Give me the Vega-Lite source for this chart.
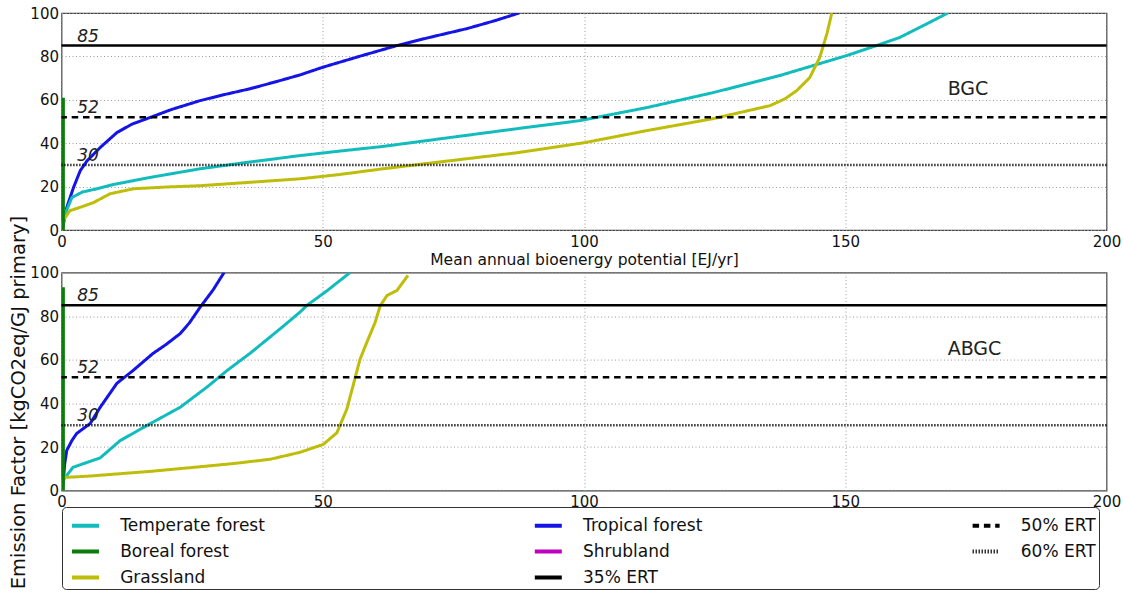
{
  "$schema": "https://vega.github.io/schema/vega-lite/v6.json",
  "background": "white",
  "padding": {"left": 7.5, "top": 5, "right": 5, "bottom": 5},
  "datasets": {
    "curves": [
      {"panel": "BGC", "series": "Tropical forest", "x": 0, "y": 0},
      {"panel": "BGC", "series": "Tropical forest", "x": 0.3, "y": 2},
      {"panel": "BGC", "series": "Tropical forest", "x": 1, "y": 10.3},
      {"panel": "BGC", "series": "Tropical forest", "x": 2.3, "y": 19.6},
      {"panel": "BGC", "series": "Tropical forest", "x": 3.6, "y": 27.4},
      {"panel": "BGC", "series": "Tropical forest", "x": 4.9, "y": 31.9},
      {"panel": "BGC", "series": "Tropical forest", "x": 7.4, "y": 38},
      {"panel": "BGC", "series": "Tropical forest", "x": 10.6, "y": 44.9},
      {"panel": "BGC", "series": "Tropical forest", "x": 13.5, "y": 48.8},
      {"panel": "BGC", "series": "Tropical forest", "x": 16.9, "y": 51.8},
      {"panel": "BGC", "series": "Tropical forest", "x": 21, "y": 55.5},
      {"panel": "BGC", "series": "Tropical forest", "x": 26.5, "y": 59.6},
      {"panel": "BGC", "series": "Tropical forest", "x": 31, "y": 62.3},
      {"panel": "BGC", "series": "Tropical forest", "x": 36.1, "y": 65.1},
      {"panel": "BGC", "series": "Tropical forest", "x": 41, "y": 68.3},
      {"panel": "BGC", "series": "Tropical forest", "x": 45.7, "y": 71.5},
      {"panel": "BGC", "series": "Tropical forest", "x": 50, "y": 75},
      {"panel": "BGC", "series": "Tropical forest", "x": 57, "y": 80},
      {"panel": "BGC", "series": "Tropical forest", "x": 64.2, "y": 85},
      {"panel": "BGC", "series": "Tropical forest", "x": 70, "y": 88.5},
      {"panel": "BGC", "series": "Tropical forest", "x": 77.6, "y": 92.8},
      {"panel": "BGC", "series": "Tropical forest", "x": 83, "y": 96.5},
      {"panel": "BGC", "series": "Tropical forest", "x": 87.2, "y": 99.7},
      {"panel": "BGC", "series": "Tropical forest", "x": 87.6, "y": 100},
      {"panel": "BGC", "series": "Temperate forest", "x": 0, "y": 0},
      {"panel": "BGC", "series": "Temperate forest", "x": 0.3, "y": 3},
      {"panel": "BGC", "series": "Temperate forest", "x": 0.7, "y": 7.5},
      {"panel": "BGC", "series": "Temperate forest", "x": 2, "y": 15},
      {"panel": "BGC", "series": "Temperate forest", "x": 4, "y": 17.5},
      {"panel": "BGC", "series": "Temperate forest", "x": 6.8, "y": 19},
      {"panel": "BGC", "series": "Temperate forest", "x": 10, "y": 21},
      {"panel": "BGC", "series": "Temperate forest", "x": 16.9, "y": 24.2},
      {"panel": "BGC", "series": "Temperate forest", "x": 26.5, "y": 28.2},
      {"panel": "BGC", "series": "Temperate forest", "x": 35, "y": 31},
      {"panel": "BGC", "series": "Temperate forest", "x": 45.7, "y": 34.3},
      {"panel": "BGC", "series": "Temperate forest", "x": 53, "y": 36.3},
      {"panel": "BGC", "series": "Temperate forest", "x": 61.5, "y": 38.5},
      {"panel": "BGC", "series": "Temperate forest", "x": 74.3, "y": 42.6},
      {"panel": "BGC", "series": "Temperate forest", "x": 87.2, "y": 46.7},
      {"panel": "BGC", "series": "Temperate forest", "x": 99.2, "y": 50.4},
      {"panel": "BGC", "series": "Temperate forest", "x": 112, "y": 56.4},
      {"panel": "BGC", "series": "Temperate forest", "x": 124.7, "y": 63.3},
      {"panel": "BGC", "series": "Temperate forest", "x": 137.5, "y": 71.2},
      {"panel": "BGC", "series": "Temperate forest", "x": 150.3, "y": 80.4},
      {"panel": "BGC", "series": "Temperate forest", "x": 156, "y": 85},
      {"panel": "BGC", "series": "Temperate forest", "x": 160.4, "y": 88.7},
      {"panel": "BGC", "series": "Temperate forest", "x": 165.6, "y": 95},
      {"panel": "BGC", "series": "Temperate forest", "x": 169.4, "y": 99.7},
      {"panel": "BGC", "series": "Temperate forest", "x": 169.6, "y": 100},
      {"panel": "BGC", "series": "Grassland", "x": 0, "y": 0},
      {"panel": "BGC", "series": "Grassland", "x": 0.3, "y": 4},
      {"panel": "BGC", "series": "Grassland", "x": 0.7, "y": 5.7},
      {"panel": "BGC", "series": "Grassland", "x": 1.6, "y": 8.9},
      {"panel": "BGC", "series": "Grassland", "x": 4, "y": 10.8},
      {"panel": "BGC", "series": "Grassland", "x": 6.1, "y": 12.6},
      {"panel": "BGC", "series": "Grassland", "x": 9.3, "y": 16.7},
      {"panel": "BGC", "series": "Grassland", "x": 13.8, "y": 19},
      {"panel": "BGC", "series": "Grassland", "x": 20, "y": 19.8},
      {"panel": "BGC", "series": "Grassland", "x": 26.5, "y": 20.4},
      {"panel": "BGC", "series": "Grassland", "x": 35, "y": 21.8},
      {"panel": "BGC", "series": "Grassland", "x": 45.7, "y": 23.6},
      {"panel": "BGC", "series": "Grassland", "x": 53, "y": 25.5},
      {"panel": "BGC", "series": "Grassland", "x": 61.5, "y": 28.2},
      {"panel": "BGC", "series": "Grassland", "x": 74.3, "y": 31.9},
      {"panel": "BGC", "series": "Grassland", "x": 87.2, "y": 35.6},
      {"panel": "BGC", "series": "Grassland", "x": 100, "y": 40.2},
      {"panel": "BGC", "series": "Grassland", "x": 112, "y": 45.8},
      {"panel": "BGC", "series": "Grassland", "x": 124.7, "y": 51.3},
      {"panel": "BGC", "series": "Grassland", "x": 135.6, "y": 57.3},
      {"panel": "BGC", "series": "Grassland", "x": 138.5, "y": 60.5},
      {"panel": "BGC", "series": "Grassland", "x": 140.7, "y": 64.2},
      {"panel": "BGC", "series": "Grassland", "x": 143.2, "y": 70.2},
      {"panel": "BGC", "series": "Grassland", "x": 145.1, "y": 79.4},
      {"panel": "BGC", "series": "Grassland", "x": 146.5, "y": 90.5},
      {"panel": "BGC", "series": "Grassland", "x": 147.4, "y": 99.7},
      {"panel": "BGC", "series": "Grassland", "x": 147.5, "y": 100},
      {"panel": "BGC", "series": "Boreal forest", "x": 0.36, "y": 0},
      {"panel": "BGC", "series": "Boreal forest", "x": 0.36, "y": 61},
      {"panel": "ABGC", "series": "Tropical forest", "x": 0, "y": 0},
      {"panel": "ABGC", "series": "Tropical forest", "x": 0.3, "y": 3.3},
      {"panel": "ABGC", "series": "Tropical forest", "x": 0.6, "y": 12},
      {"panel": "ABGC", "series": "Tropical forest", "x": 1, "y": 18.4},
      {"panel": "ABGC", "series": "Tropical forest", "x": 2, "y": 23},
      {"panel": "ABGC", "series": "Tropical forest", "x": 2.9, "y": 26.2},
      {"panel": "ABGC", "series": "Tropical forest", "x": 5.5, "y": 30.8},
      {"panel": "ABGC", "series": "Tropical forest", "x": 7.4, "y": 38.2},
      {"panel": "ABGC", "series": "Tropical forest", "x": 10.6, "y": 49.2},
      {"panel": "ABGC", "series": "Tropical forest", "x": 13.7, "y": 55.1},
      {"panel": "ABGC", "series": "Tropical forest", "x": 17.5, "y": 62.9},
      {"panel": "ABGC", "series": "Tropical forest", "x": 20, "y": 67},
      {"panel": "ABGC", "series": "Tropical forest", "x": 22.7, "y": 72},
      {"panel": "ABGC", "series": "Tropical forest", "x": 24.5, "y": 77},
      {"panel": "ABGC", "series": "Tropical forest", "x": 26.5, "y": 84},
      {"panel": "ABGC", "series": "Tropical forest", "x": 29, "y": 92},
      {"panel": "ABGC", "series": "Tropical forest", "x": 31, "y": 99.6},
      {"panel": "ABGC", "series": "Tropical forest", "x": 31.1, "y": 100},
      {"panel": "ABGC", "series": "Temperate forest", "x": 0, "y": 0},
      {"panel": "ABGC", "series": "Temperate forest", "x": 0.3, "y": 4.7},
      {"panel": "ABGC", "series": "Temperate forest", "x": 2.2, "y": 10.7},
      {"panel": "ABGC", "series": "Temperate forest", "x": 7.4, "y": 15},
      {"panel": "ABGC", "series": "Temperate forest", "x": 11.2, "y": 22.9},
      {"panel": "ABGC", "series": "Temperate forest", "x": 16.9, "y": 30.6},
      {"panel": "ABGC", "series": "Temperate forest", "x": 22.7, "y": 38.2},
      {"panel": "ABGC", "series": "Temperate forest", "x": 27.8, "y": 47.4},
      {"panel": "ABGC", "series": "Temperate forest", "x": 31.7, "y": 55.1},
      {"panel": "ABGC", "series": "Temperate forest", "x": 36.1, "y": 63},
      {"panel": "ABGC", "series": "Temperate forest", "x": 42.4, "y": 75.3},
      {"panel": "ABGC", "series": "Temperate forest", "x": 45.7, "y": 82},
      {"panel": "ABGC", "series": "Temperate forest", "x": 47, "y": 85},
      {"panel": "ABGC", "series": "Temperate forest", "x": 51, "y": 92},
      {"panel": "ABGC", "series": "Temperate forest", "x": 55.2, "y": 100},
      {"panel": "ABGC", "series": "Grassland", "x": 0, "y": 0},
      {"panel": "ABGC", "series": "Grassland", "x": 0.3, "y": 6},
      {"panel": "ABGC", "series": "Grassland", "x": 5, "y": 6.6},
      {"panel": "ABGC", "series": "Grassland", "x": 16.9, "y": 8.8},
      {"panel": "ABGC", "series": "Grassland", "x": 25, "y": 10.6},
      {"panel": "ABGC", "series": "Grassland", "x": 32.9, "y": 12.4},
      {"panel": "ABGC", "series": "Grassland", "x": 40, "y": 14.4},
      {"panel": "ABGC", "series": "Grassland", "x": 45.7, "y": 17.6},
      {"panel": "ABGC", "series": "Grassland", "x": 50.1, "y": 21.2},
      {"panel": "ABGC", "series": "Grassland", "x": 52.7, "y": 26.5},
      {"panel": "ABGC", "series": "Grassland", "x": 54.6, "y": 37.3},
      {"panel": "ABGC", "series": "Grassland", "x": 55.8, "y": 48.1},
      {"panel": "ABGC", "series": "Grassland", "x": 57.1, "y": 60},
      {"panel": "ABGC", "series": "Grassland", "x": 58.4, "y": 67.8},
      {"panel": "ABGC", "series": "Grassland", "x": 60, "y": 77},
      {"panel": "ABGC", "series": "Grassland", "x": 61, "y": 84.8},
      {"panel": "ABGC", "series": "Grassland", "x": 62.3, "y": 89.5},
      {"panel": "ABGC", "series": "Grassland", "x": 64.2, "y": 91.8},
      {"panel": "ABGC", "series": "Grassland", "x": 66.3, "y": 98.7},
      {"panel": "ABGC", "series": "Boreal forest", "x": 0.36, "y": 0},
      {"panel": "ABGC", "series": "Boreal forest", "x": 0.36, "y": 93.3}
    ],
    "thresholds": [
      {"series": "35% ERT", "v": 85},
      {"series": "50% ERT", "v": 52},
      {"series": "60% ERT", "v": 30}
    ],
    "panels": [
      {"panel": "BGC"},
      {"panel": "ABGC"}
    ]
  },
  "vconcat": [
    {
      "width": 1045,
      "height": 217,
      "layer": [
        {
          "data": {"name": "curves"},
          "transform": [{"filter": "datum.panel == 'BGC'"}],
          "mark": {"type": "line", "strokeWidth": 3, "clip": true},
          "encoding": {
            "x": {"field": "x", "type": "quantitative", "scale": {"domain": [0, 200], "nice": false},
                  "axis": {"values": [0, 50, 100, 150, 200], "title": "Mean annual bioenergy potential [EJ/yr]"}},
            "y": {"field": "y", "type": "quantitative", "scale": {"domain": [0, 100], "nice": false},
                  "axis": {"values": [0, 20, 40, 60, 80, 100], "title": null}},
            "order": {"field": "y", "type": "quantitative"},
            "color": {"field": "series", "type": "nominal", "legend": {"title": null},
                      "scale": {"domain": ["Temperate forest", "Boreal forest", "Grassland", "Tropical forest", "Shrubland", "35% ERT", "50% ERT", "60% ERT"],
                                "range": ["#12bcbc", "#0a7d0a", "#bdbd0a", "#1414e6", "#bf00bf", "#000000", "#000000", "#000000"]}},
            "strokeDash": {"field": "series", "type": "nominal", "legend": {"title": null},
                           "scale": {"domain": ["Temperate forest", "Boreal forest", "Grassland", "Tropical forest", "Shrubland", "35% ERT", "50% ERT", "60% ERT"],
                                     "range": [[1, 0], [1, 0], [1, 0], [1, 0], [1, 0], [1, 0], [6.5, 4.8], [1.2, 1.8]]}}
          }
        },
        {
          "data": {"name": "thresholds"},
          "mark": {"type": "rule", "strokeWidth": 2.5},
          "encoding": {
            "y": {"field": "v", "type": "quantitative"},
            "color": {"field": "series", "type": "nominal", "legend": {"title": null}},
            "strokeDash": {"field": "series", "type": "nominal", "legend": {"title": null}}
          }
        },
        {
          "data": {"name": "thresholds"},
          "mark": {"type": "text", "fontStyle": "italic", "fontSize": 17, "font": "DejaVu Sans", "align": "left", "baseline": "alphabetic", "dy": -4, "color": "#222"},
          "encoding": {
            "x": {"datum": 3, "type": "quantitative"},
            "y": {"field": "v", "type": "quantitative"},
            "text": {"field": "v", "type": "quantitative"}
          }
        },
        {
          "data": {"name": "panels"},
          "transform": [{"filter": "datum.panel == 'BGC'"}],
          "mark": {"type": "text", "fontSize": 19, "font": "DejaVu Sans", "align": "left", "baseline": "middle", "color": "#222"},
          "encoding": {
            "x": {"datum": 169.6, "type": "quantitative"},
            "y": {"datum": 65, "type": "quantitative"},
            "text": {"field": "panel", "type": "nominal"}
          }
        }
      ]
    },
    {
      "width": 1045,
      "height": 218,
      "layer": [
        {
          "data": {"name": "curves"},
          "transform": [{"filter": "datum.panel == 'ABGC'"}],
          "mark": {"type": "line", "strokeWidth": 3, "clip": true},
          "encoding": {
            "x": {"field": "x", "type": "quantitative", "scale": {"domain": [0, 200], "nice": false},
                  "axis": {"values": [0, 50, 100, 150, 200], "title": null}},
            "y": {"field": "y", "type": "quantitative", "scale": {"domain": [0, 100], "nice": false},
                  "axis": {"values": [0, 20, 40, 60, 80, 100], "title": "Emission Factor [kgCO2eq/GJ primary]",
                           "titleX": -43, "titleY": 129.5, "titleAngle": 270, "titleAlign": "center", "titleBaseline": "middle", "titleFontSize": 19.5}},
            "order": {"field": "y", "type": "quantitative"},
            "color": {"field": "series", "type": "nominal", "legend": {"title": null}},
            "strokeDash": {"field": "series", "type": "nominal", "legend": {"title": null}}
          }
        },
        {
          "data": {"name": "thresholds"},
          "mark": {"type": "rule", "strokeWidth": 2.5},
          "encoding": {
            "y": {"field": "v", "type": "quantitative"},
            "color": {"field": "series", "type": "nominal", "legend": {"title": null}},
            "strokeDash": {"field": "series", "type": "nominal", "legend": {"title": null}}
          }
        },
        {
          "data": {"name": "thresholds"},
          "mark": {"type": "text", "fontStyle": "italic", "fontSize": 17, "font": "DejaVu Sans", "align": "left", "baseline": "alphabetic", "dy": -4, "color": "#222"},
          "encoding": {
            "x": {"datum": 3, "type": "quantitative"},
            "y": {"field": "v", "type": "quantitative"},
            "text": {"field": "v", "type": "quantitative"}
          }
        },
        {
          "data": {"name": "panels"},
          "transform": [{"filter": "datum.panel == 'ABGC'"}],
          "mark": {"type": "text", "fontSize": 19, "font": "DejaVu Sans", "align": "left", "baseline": "middle", "color": "#222"},
          "encoding": {
            "x": {"datum": 169.6, "type": "quantitative"},
            "y": {"datum": 65, "type": "quantitative"},
            "text": {"field": "panel", "type": "nominal"}
          }
        }
      ]
    }
  ],
  "spacing": 42.6,
  "bounds": "flush",
  "resolve": {"scale": {"color": "shared", "strokeDash": "shared"}, "legend": {"color": "shared", "strokeDash": "shared"}},
  "config": {
    "font": "DejaVu Sans",
    "view": {"stroke": "#444", "strokeWidth": 1.2},
    "axis": {
      "labelFont": "DejaVu Sans", "labelFontSize": 15, "labelColor": "#111", "labelPadding": 4,
      "labelFlush": false, "labelOverlap": false, "labelBound": false,
      "ticks": false, "domain": false,
      "grid": true, "gridColor": "#9a9a9a", "gridDash": [1, 2.5], "gridWidth": 1,
      "titleFont": "DejaVu Sans", "titleFontSize": 15.5, "titleFontWeight": "normal", "titleColor": "#111", "titlePadding": 3
    },
    "axisY": {"labelPadding": 3},
    "legend": {
      "orient": "none", "legendX": 0.5, "legendY": 494,
      "columns": 3, "symbolType": "stroke", "symbolSize": 729, "symbolStrokeWidth": 4,
      "labelFont": "DejaVu Sans", "labelFontSize": 17, "labelColor": "#111", "labelLimit": 0,
      "labelOffset": 19.2, "symbolOffset": 5, "columnPadding": 261.8, "rowPadding": 2,
      "padding": 3, "strokeColor": "#333", "cornerRadius": 4, "fillColor": "white"
    }
  }
}
